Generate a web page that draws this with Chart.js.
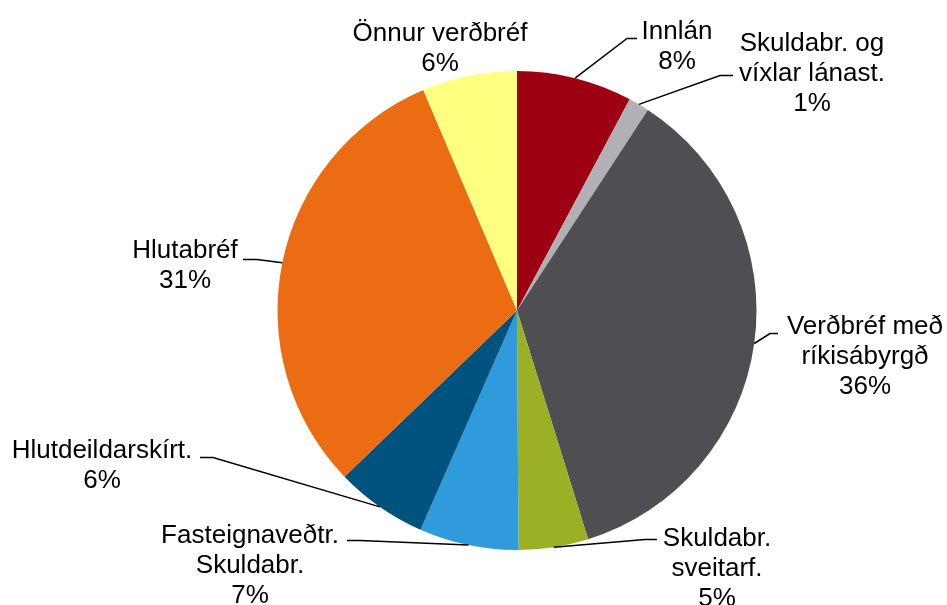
<!DOCTYPE html>
<html>
<head>
<meta charset="utf-8">
<script src="https://cdn.jsdelivr.net/npm/chart.js@4.4.1/dist/chart.umd.min.js"></script>
<style>
  html, body { margin: 0; padding: 0; background: #fff; }
  #wrap { width: 947px; height: 605px; position: relative; }
</style>
</head>
<body>
<div id="wrap"><canvas id="pie"></canvas></div>
<script>
/* Eignasamsetning — pie with outside labels */
const CATEGORIES = [
  ["Innlán"],
  ["Skuldabr. og", "víxlar lánast."],
  ["Verðbréf með", "ríkisábyrgð"],
  ["Skuldabr.", "sveitarf."],
  ["Fasteignaveðtr.", "Skuldabr."],
  ["Hlutdeildarskírt."],
  ["Hlutabréf"],
  ["Önnur verðbréf"]
];
const VALUES = [7.8, 1.4, 36.0, 4.7, 6.7, 6.2, 30.8, 6.4];
const COLORS = ["#9c0012", "#b1b0b4", "#4f4e53", "#9bb024", "#2f9adc", "#00527f", "#eb6c12", "#ffff80"];

// label placement relative to pie centre: text centre x, first baseline y,
// leader elbow (ex, ey) and end of the short horizontal stub (hx)
const LABEL_POS = [
  { x: 160, y: -272, ex: 110, ey: -272, hx: 120 },
  { x: 295, y: -260, ex: 203, ey: -235, hx: 216 },
  { x: 348, y: 23, ex: 253, ey: 23, hx: 261 },
  { x: 200, y: 235, ex: 128, ey: 229, hx: 140 },
  { x: -267, y: 232, ex: -157, ey: 230, hx: -170 },
  { x: -415, y: 147, ex: -304, ey: 147, hx: -317 },
  { x: -332, y: -53, ex: -260, ey: -51, hx: -274 },
  { x: -77, y: -270, ex: null }
];

const FONT = '26px "Liberation Sans", Arial, sans-serif';
const LINE_H = 30;

const outsideLabels = {
  id: "outsideLabels",
  afterDatasetsDraw(chart) {
    const ctx = chart.ctx;
    const meta = chart.getDatasetMeta(0);
    const total = VALUES.reduce((a, b) => a + b, 0);
    ctx.save();
    ctx.font = FONT;
    ctx.fillStyle = "#000";
    ctx.textAlign = "center";
    ctx.textBaseline = "alphabetic";
    meta.data.forEach((arc, i) => {
      const p = arc.getProps(["x", "y", "startAngle", "endAngle", "outerRadius"], true);
      const L = LABEL_POS[i];
      const mid = (p.startAngle + p.endAngle) / 2;
      const ax = p.x + Math.cos(mid) * p.outerRadius;
      const ay = p.y + Math.sin(mid) * p.outerRadius;
      if (L.ex !== null) {
        ctx.beginPath();
        ctx.strokeStyle = "#000";
        ctx.lineWidth = 1.5;
        ctx.moveTo(ax, ay);
        ctx.lineTo(p.x + L.ex, p.y + L.ey);
        ctx.lineTo(p.x + L.hx, p.y + L.ey);
        ctx.stroke();
      }
      const lines = CATEGORIES[i].concat([Math.round(VALUES[i] / total * 100) + "%"]);
      lines.forEach((t, k) => ctx.fillText(t, p.x + L.x, p.y + L.y + k * LINE_H));
    });
    ctx.restore();
  }
};

new Chart(document.getElementById("pie"), {
  type: "pie",
  data: {
    labels: CATEGORIES.map((c) => c.join(" ")),
    datasets: [{ data: VALUES, backgroundColor: COLORS, borderWidth: 0 }]
  },
  options: {
    responsive: true,
    maintainAspectRatio: false,
    animation: false,
    layout: { padding: { left: 277, right: 190, top: 71, bottom: 55 } },
    plugins: { legend: { display: false }, tooltip: { enabled: false } }
  },
  plugins: [outsideLabels]
});
</script>
</body>
</html>
